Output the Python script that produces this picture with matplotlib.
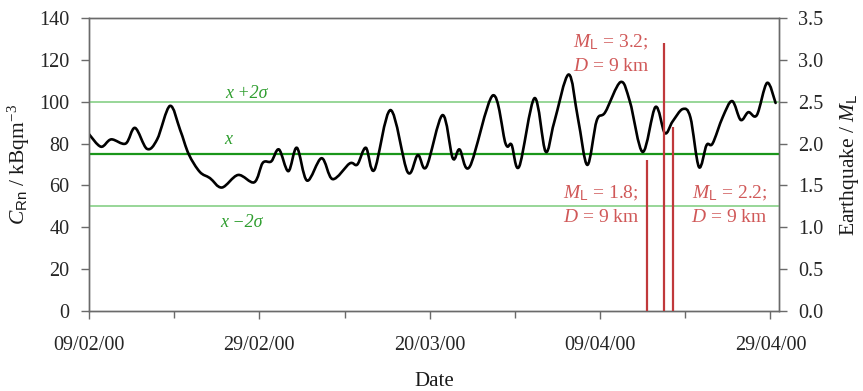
import numpy as np
import matplotlib
matplotlib.use('Agg')
import matplotlib.pyplot as plt
import matplotlib.dates as mdates
from matplotlib.path import Path
from matplotlib.patches import PathPatch
from matplotlib.ticker import FixedLocator, FormatStrFormatter

# ---------------- data ----------------
start_date = '2000-02-09'
day_offsets = [0.0, 1.4, 2.6, 4.3, 5.4, 6.8, 8.0, 9.5, 10.7, 11.7, 13.0, 14.2, 15.6,
               17.5, 19.4, 20.4, 21.4, 22.3, 23.4, 24.4, 25.6, 27.3, 28.6, 30.6,
               31.5, 32.5, 33.5, 35.4, 37.4, 38.6, 39.6, 41.5, 42.7, 43.5, 44.7,
               47.4, 48.9, 49.6, 50.5, 52.3, 53.6, 54.6, 56.3, 57.4, 58.5, 59.6,
               60.6, 62.4, 63.5, 65.0, 66.5, 67.6, 68.5, 69.7, 70.6, 71.6, 72.5,
               73.2, 74.4, 75.5, 76.5, 77.4, 78.4, 79.6, 80.6]
radon = [84.5, 78.5, 82.0, 80.0, 87.5, 77.5, 82.0, 98.0, 86.5, 75.0, 66.5, 63.5, 59.0,
         65.0, 61.5, 70.8, 71.5, 77.2, 66.8, 78.0, 62.3, 73.0, 63.0, 70.5,
         70.0, 78.0, 67.4, 96.0, 66.4, 74.5, 68.8, 93.6, 73.0, 77.2, 69.0,
         103.0, 80.0, 79.5, 69.0, 101.7, 76.2, 90.0, 113.0, 92.0, 69.8, 91.0,
         95.0, 109.4, 100.0, 76.0, 97.5, 85.0, 90.5, 96.5, 92.5, 68.8, 79.3,
         80.0, 92.7, 100.3, 91.3, 95.0, 93.6, 109.0, 99.4]
mean_level = 75
upper_level = 100
lower_level = 50
quake_offsets = [65.5, 67.5, 68.5]
quake_mag = [1.8, 3.2, 2.2]
quake_dist = [9, 9, 9]
major_tick_days = [0, 20, 40, 60, 80]
minor_tick_days = [10, 30, 50, 70]
x_end_day = 81

# ---------------- style ----------------
plt.rcParams['font.family'] = ['Liberation Serif', 'DejaVu Serif']
plt.rcParams['mathtext.fontset'] = 'custom'
plt.rcParams['mathtext.rm'] = 'Liberation Serif'
plt.rcParams['mathtext.it'] = 'Liberation Serif:italic'
plt.rcParams['mathtext.sf'] = 'Liberation Sans'

spine_col = '#6a6a6a'
tick_col = '#262626'
red_line = '#c0393b'
red_text = '#d05858'
green_dark = '#1a961a'
green_light = '#86cf86'
green_text = '#2f9e2f'

fig = plt.figure(figsize=(8.63, 3.91), dpi=100)
ax = fig.add_axes([89/863, 1-311/391, (779-89)/863, (311-18)/391])
ax2 = ax.twinx()

base = mdates.date2num(np.datetime64(start_date))
xs = base + np.array(day_offsets)
ys = np.array(radon, dtype=float)

# smooth curve (Catmull-Rom as cubic Bezier through read points)
P = np.column_stack([xs, ys])
n = len(P)
verts = [P[0]]
codes = [Path.MOVETO]
for i in range(n - 1):
    p0 = P[i - 1] if i > 0 else P[i]
    p1 = P[i]
    p2 = P[i + 1]
    p3 = P[i + 2] if i + 2 < n else P[i + 1]
    c1 = p1 + (p2 - p0) / 6.0
    c2 = p2 - (p3 - p1) / 6.0
    verts += [c1, c2, p2]
    codes += [Path.CURVE4] * 3
ax.add_patch(PathPatch(Path(verts, codes), fill=False, lw=1.9, edgecolor='black',
                       zorder=5, capstyle='round', joinstyle='round'))

xmin, xmax = base, base + x_end_day
ax.axhline(upper_level, color=green_light, lw=1.2, zorder=3)
ax.axhline(lower_level, color=green_light, lw=1.2, zorder=3)
ax.axhline(mean_level, color=green_dark, lw=1.6, zorder=3)

ax.set_xlim(xmin, xmax)
ax.set_ylim(0, 140)
ax.set_yticks(np.arange(0, 141, 20))
ax.xaxis.set_major_locator(FixedLocator(base + np.array(major_tick_days)))
ax.xaxis.set_minor_locator(FixedLocator(base + np.array(minor_tick_days)))
ax.xaxis.set_major_formatter(mdates.DateFormatter('%d/%m/%y'))

# earthquakes on right axis
qx = base + np.array(quake_offsets)
ax2.vlines(qx, 0, quake_mag, colors=red_line, lw=1.6, zorder=4)
ax2.set_ylim(0, 3.5)
ax2.set_yticks(np.arange(0, 3.51, 0.5))
ax2.yaxis.set_major_formatter(FormatStrFormatter('%.1f'))

for a in (ax, ax2):
    for s in a.spines.values():
        s.set_color(spine_col)
        s.set_linewidth(1.0)
    a.tick_params(which='both', direction='out', colors=spine_col, labelcolor=tick_col,
                  labelsize=14.5, width=1.0)
    a.tick_params(which='major', length=6)
    a.tick_params(which='minor', length=5)
ax.tick_params(axis='x', pad=12)
ax.tick_params(axis='y', pad=8)
ax2.tick_params(axis='y', pad=8)

ax.set_xlabel('Date', fontsize=15, color='#1a1a1a', labelpad=12)
ax.set_ylabel(r'$C_{\mathsf{Rn}}$ / kBqm$^{-3}$', fontsize=15.5, color='#1a1a1a', labelpad=5)
ax2.set_ylabel(r'Earthquake / $M_{\mathsf{L}}$', fontsize=15.5, color='#1a1a1a', labelpad=10)

# threshold labels
ax.text(base + 18.5, 104, r'x +2σ', style='italic', color=green_text, fontsize=13,
        ha='center', va='center')
ax.text(base + 16.3, 82, 'x', style='italic', color=green_text, fontsize=13,
        ha='center', va='center')
ax.text(base + 17.9, 42.5, r'x −2σ', style='italic', color=green_text, fontsize=13,
        ha='center', va='center')

# earthquake labels
def qlabel(day, y_top, mag, dist):
    ax2.text(base + day, y_top, r'$M_{\mathsf{L}}$ = %.1f;' % mag, color=red_text,
             fontsize=14, ha='center', va='center')
    ax2.text(base + day, y_top - 0.29, r'$D$ = %d km' % dist, color=red_text,
             fontsize=14, ha='center', va='center')

qlabel(60.1, 1.41, quake_mag[0], quake_dist[0])
qlabel(61.3, 3.21, quake_mag[1], quake_dist[1])
qlabel(75.2, 1.41, quake_mag[2], quake_dist[2])

fig.savefig('out.png', dpi=100)
